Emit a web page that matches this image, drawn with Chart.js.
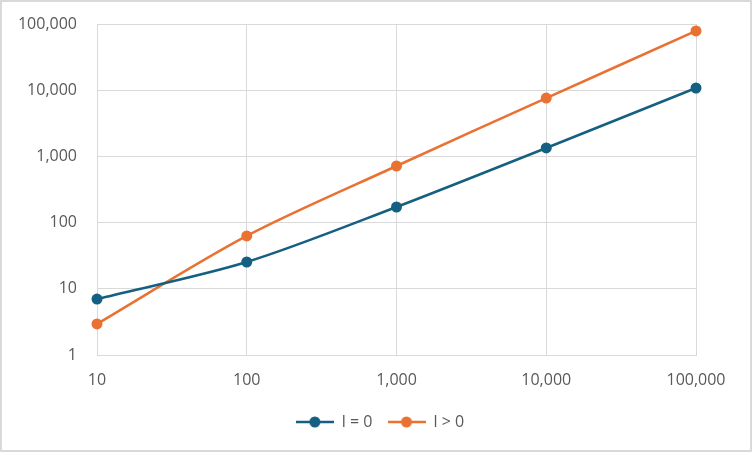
<!DOCTYPE html>
<html>
<head>
<meta charset="utf-8">
<script src="https://cdn.jsdelivr.net/npm/chart.js@4/dist/chart.umd.min.js"></script>
<style>
  html, body { margin: 0; padding: 0; background: #fff; }
  #wrap { position: relative; width: 752px; height: 452px; box-sizing: border-box; border: 2px solid #D9D9D9; background: #fff; }
  #c { position: absolute; left: -2px; top: -2px; }
</style>
</head>
<body>
<div id="wrap"><canvas id="c" width="752" height="452"></canvas></div>
<script>
const categories = [10, 100, 1000, 10000, 100000];
const seriesNames = ['l = 0', 'l > 0'];
const seriesL0 = [7.0, 25.4, 172, 1340, 10800];
const seriesLpos = [2.95, 63, 716, 7600, 78500];
const xTickValues = [10, 100, 1000, 10000, 100000];
const yTickValues = [1, 10, 100, 1000, 10000, 100000];
const colors = ['#156082', '#E97132'];

function legendImage(color) {
  const cv = document.createElement('canvas');
  cv.width = 38; cv.height = 14;
  const g = cv.getContext('2d');
  g.strokeStyle = color; g.lineWidth = 2.5;
  g.beginPath(); g.moveTo(0, 7); g.lineTo(38, 7); g.stroke();
  g.fillStyle = color;
  g.beginPath(); g.arc(19, 7, 5.5, 0, Math.PI * 2); g.fill();
  return cv;
}

const fmt = v => Number(v).toLocaleString('en-US');
const font = { family: "'Open Sans', sans-serif", size: 16 };

new Chart(document.getElementById('c'), {
  type: 'line',
  data: {
    datasets: [seriesL0, seriesLpos].map((vals, i) => ({
      label: seriesNames[i],
      data: categories.map((x, j) => ({ x: x, y: vals[j] })),
      borderColor: colors[i],
      backgroundColor: colors[i],
      borderWidth: 2.5,
      pointRadius: 5.5,
      pointHoverRadius: 5.5,
      pointBorderWidth: 0,
      tension: 0.3,
      clip: false
    }))
  },
  options: {
    responsive: false,
    animation: false,
    layout: { autoPadding: false, padding: { top: 24, right: 0, left: 8, bottom: 12 } },
    scales: {
      x: {
        type: 'logarithmic',
        min: 10, max: 100000,
        afterBuildTicks: s => { s.ticks = xTickValues.map(v => ({ value: v })); },
        afterFit: s => { s.height = 44; },
        grid: { color: '#D9D9D9', lineWidth: 1, drawTicks: false },
        border: { color: '#D9D9D9' },
        ticks: { color: '#595959', font: font, padding: 16, maxRotation: 0, callback: v => fmt(v) }
      },
      y: {
        type: 'logarithmic',
        min: 1, max: 100000,
        afterBuildTicks: s => { s.ticks = yTickValues.map(v => ({ value: v })); },
        afterFit: s => { s.width = 89; s.paddingTop = 0; s.paddingBottom = 0; },
        grid: { color: '#D9D9D9', lineWidth: 1, drawTicks: false },
        border: { color: '#D9D9D9' },
        ticks: { color: '#595959', font: font, padding: 20, callback: v => fmt(v) }
      },
      yRight: {
        type: 'linear',
        position: 'right',
        display: true,
        afterFit: s => { s.width = 56; s.paddingTop = 0; s.paddingBottom = 0; },
        grid: { display: false, drawTicks: false },
        border: { display: false },
        ticks: { display: false }
      }
    },
    plugins: {
      tooltip: { enabled: false },
      legend: {
        position: 'bottom',
        labels: {
          usePointStyle: true,
          pointStyleWidth: 38,
          color: '#595959',
          font: font,
          padding: 15,
          generateLabels: chart => chart.data.datasets.map((d, i) => ({
            text: d.label,
            pointStyle: legendImage(colors[i]),
            fillStyle: colors[i],
            strokeStyle: colors[i],
            lineWidth: 0,
            fontColor: '#595959',
            datasetIndex: i,
            hidden: false
          }))
        }
      }
    }
  }
});
</script>
</body>
</html>
